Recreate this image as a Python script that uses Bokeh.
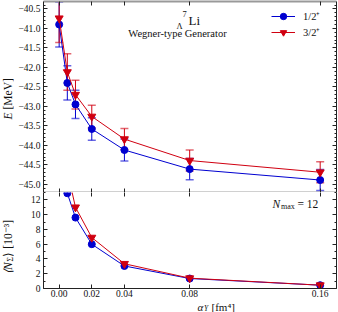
import math
from bokeh.plotting import figure
from bokeh.layouts import column, row
from bokeh.models import (Range1d, LinearAxis, SingleIntervalTicker, FixedTicker,
                          Whisker, ColumnDataSource, Legend, LegendItem, Label,
                          CustomJSTickFormatter, TeeHead)
from bokeh.embed import file_html
from bokeh.resources import INLINE

# ---------------- data ----------------
alpha_Y = [0.0, 0.005, 0.01, 0.02, 0.04, 0.08, 0.16]
E_half = [-40.90, -42.40, -42.95, -43.58, -44.12, -44.61, -44.89]
E_half_err = [0.58, 0.44, 0.36, 0.29, 0.28, 0.27, 0.27]
E_3half = [-40.74, -42.12, -42.70, -43.26, -43.84, -44.39, -44.69]
E_3half_err = [0.62, 0.47, 0.37, 0.29, 0.27, 0.27, 0.27]
NS_half = [25.0, 12.9, 9.6, 6.0, 3.05, 1.35, 0.45]
NS_3half = [27.0, 15.9, 11.0, 6.9, 3.35, 1.40, 0.45]
x_ticks = [0.0, 0.02, 0.04, 0.08, 0.16]
x_tick_labels = ["0.00", "0.02", "0.04", "0.08", "0.16"]
series_labels = ["1/2\u207a", "3/2\u207a"]

FONT = "Liberation Serif"
BLUE = "#0000d0"
RED = "#d00010"
AX = "#222222"

WL = 14          # left title strip
WM = 324         # main column
H1 = 192
H2 = 108
HX = 12
BL = 29

xr = Range1d(-0.0096, 0.170)

blank = CustomJSTickFormatter(code="return ''")
minus_fmt = CustomJSTickFormatter(
    code="return (tick < 0 ? '\u2212' : '') + Math.abs(tick).toFixed(1)")
x_fmt = CustomJSTickFormatter(
    args=dict(xt=x_ticks, xl=x_tick_labels),
    code="for (let i = 0; i < xt.length; i++) { if (Math.abs(xt[i] - tick) < 1e-9) return xl[i]; } return '';")


def style_axis(ax, labels=True, line_color=AX, line_width=1):
    ax.major_tick_in = 4
    ax.major_tick_out = 0
    ax.minor_tick_in = 2
    ax.minor_tick_out = 0
    ax.axis_line_color = line_color
    ax.axis_line_width = line_width
    ax.major_tick_line_color = AX
    ax.minor_tick_line_color = AX
    ax.major_label_text_font = FONT
    ax.major_label_text_color = "#111111"
    if labels:
        ax.major_label_text_font_size = "9.5px"
        ax.major_label_standoff = 3
    else:
        ax.major_label_text_font_size = "0px"
        ax.major_label_standoff = 0


def lab(p, x, y, text, size="10.5px", style="normal", angle=0.0, align="left", baseline="middle"):
    p.add_layout(Label(x=x, y=y, x_units="screen", y_units="screen", text=text,
                       text_font=FONT, text_font_size=size, text_font_style=style,
                       text_align=align, text_baseline=baseline, angle=angle,
                       text_color="#111111"))


def blank_fig(w, h):
    f = figure(width=w, height=h, x_range=Range1d(0, 1), y_range=Range1d(0, 1),
               output_backend="svg", toolbar_location=None,
               x_axis_type=None, y_axis_type=None,
               min_border_left=0, min_border_right=0, min_border_top=0, min_border_bottom=0)
    f.outline_line_color = None
    return f


# ---------------- top panel ----------------
p1 = figure(width=WM, height=H1, x_range=xr, y_range=Range1d(-45.21, -40.31),
            output_backend="svg", toolbar_location=None,
            x_axis_type=None, y_axis_type=None,
            min_border_left=BL, min_border_right=2, min_border_top=1, min_border_bottom=0)
p1.outline_line_color = None

yl1 = LinearAxis(ticker=SingleIntervalTicker(interval=0.5, num_minor_ticks=5), formatter=minus_fmt)
style_axis(yl1)
p1.add_layout(yl1, "left")
yr1 = LinearAxis(ticker=SingleIntervalTicker(interval=0.5, num_minor_ticks=5), formatter=blank)
style_axis(yr1, labels=False)
p1.add_layout(yr1, "right")
xt1 = LinearAxis(ticker=FixedTicker(ticks=x_ticks, minor_ticks=[]), formatter=blank)
style_axis(xt1, labels=False, line_color="#999999", line_width=2)
p1.add_layout(xt1, "above")
xb1 = LinearAxis(ticker=FixedTicker(ticks=x_ticks, minor_ticks=[]), formatter=blank)
style_axis(xb1, labels=False, line_color="#444444", line_width=1.5)
p1.add_layout(xb1, "below")

src_h = ColumnDataSource(dict(x=alpha_Y, y=E_half,
                              lo=[v - e for v, e in zip(E_half, E_half_err)],
                              hi=[v + e for v, e in zip(E_half, E_half_err)]))
src_t = ColumnDataSource(dict(x=alpha_Y, y=E_3half,
                              lo=[v - e for v, e in zip(E_3half, E_3half_err)],
                              hi=[v + e for v, e in zip(E_3half, E_3half_err)]))

for src, col in ((src_h, BLUE), (src_t, RED)):
    w = Whisker(source=src, base="x", upper="hi", lower="lo", line_color=col, line_width=1,
                upper_head=TeeHead(size=8, line_color=col, line_alpha=0.6, line_width=1.5),
                lower_head=TeeHead(size=8, line_color=col, line_alpha=0.6, line_width=1.5),
                level="underlay")
    p1.add_layout(w)

l1h = p1.line("x", "y", source=src_h, line_color=BLUE, line_width=1)
s1h = p1.scatter("x", "y", source=src_h, marker="circle", size=7, fill_color=BLUE, line_color=BLUE)
l1t = p1.line("x", "y", source=src_t, line_color=RED, line_width=1)
s1t = p1.scatter("x", "y", source=src_t, marker="inverted_triangle", size=8, fill_color=RED, line_color=RED)

legend = Legend(items=[LegendItem(label=series_labels[0], renderers=[l1h, s1h]),
                       LegendItem(label=series_labels[1], renderers=[l1t, s1t])],
                location="top_right", glyph_width=24, glyph_height=16, label_height=16,
                label_standoff=8, label_width=26, spacing=0, padding=0, margin=7,
                border_line_color=None, background_fill_alpha=0,
                label_text_font=FONT, label_text_font_size="10.5px", label_text_color="#111111")
p1.add_layout(legend)

# annotation: hypernucleus and generator
lab(p1, 145.0, 172.0, "Li", size="13px")
lab(p1, 141.0, 179.0, "7", size="8.5px", align="center")
lab(p1, 136.0, 166.5, "\u039b", size="8.5px", align="center")
lab(p1, 134.0, 159.0, "Wegner-type Generator", size="10.5px", align="center")

# ---------------- bottom panel ----------------
p2 = figure(width=WM, height=H2, x_range=xr, y_range=Range1d(0, 13.0),
            output_backend="svg", toolbar_location=None,
            x_axis_type=None, y_axis_type=None,
            min_border_left=BL, min_border_right=2, min_border_top=0, min_border_bottom=12)
p2.outline_line_color = None

yl2 = LinearAxis(ticker=SingleIntervalTicker(interval=2, num_minor_ticks=2))
style_axis(yl2)
p2.add_layout(yl2, "left")
yr2 = LinearAxis(ticker=SingleIntervalTicker(interval=2, num_minor_ticks=2), formatter=blank)
style_axis(yr2, labels=False)
p2.add_layout(yr2, "right")
xt2 = LinearAxis(ticker=FixedTicker(ticks=x_ticks, minor_ticks=[]), formatter=blank)
style_axis(xt2, labels=False, line_color=None)
p2.add_layout(xt2, "above")
xb2 = LinearAxis(ticker=FixedTicker(ticks=x_ticks, minor_ticks=[]), formatter=x_fmt)
style_axis(xb2)
xb2.major_label_standoff = 1
p2.add_layout(xb2, "below")

src2h = ColumnDataSource(dict(x=alpha_Y, y=NS_half))
src2t = ColumnDataSource(dict(x=alpha_Y, y=NS_3half))
p2.line("x", "y", source=src2h, line_color=BLUE, line_width=1)
p2.scatter("x", "y", source=src2h, marker="circle", size=7, fill_color=BLUE, line_color=BLUE)
p2.line("x", "y", source=src2t, line_color=RED, line_width=1)
p2.scatter("x", "y", source=src2t, marker="inverted_triangle", size=8, fill_color=RED, line_color=RED)

# N_max label
lab(p2, 229.0, 85.0, "N", size="11.5px", style="italic")
lab(p2, 237.5, 82.0, "max", size="8px")
lab(p2, 254.0, 85.0, "= 12", size="11.5px")

# ---------------- x-axis title strip ----------------
px = blank_fig(WM, HX)
lab(px, 154.0, 6.0, "\u03b1", size="11px", style="italic")
lab(px, 160.5, 3.8, "Y", size="7.5px", style="italic")
lab(px, 168.0, 6.0, "[fm\u2074]", size="11px")

# ---------------- y-axis title strip ----------------
H_ALL = H1 + H2 + HX
py = blank_fig(WL, H_ALL)
lab(py, 7.5, 193, "E", size="11.5px", style="italic", angle=math.pi / 2)
lab(py, 7.5, 203, "[MeV]", size="11.5px", angle=math.pi / 2)
lab(py, 7.5, 38.5, "\u27e8N", size="11.5px", style="italic", angle=math.pi / 2)
lab(py, 10.0, 51.0, "\u03a3", size="7.5px", angle=math.pi / 2)
lab(py, 7.5, 56.0, "\u27e9 [10\u207b\u00b3]", size="11.5px", angle=math.pi / 2)

layout = row(py, column(p1, p2, px, spacing=0), spacing=0)
open("out.html", "w").write(file_html(layout, INLINE))
